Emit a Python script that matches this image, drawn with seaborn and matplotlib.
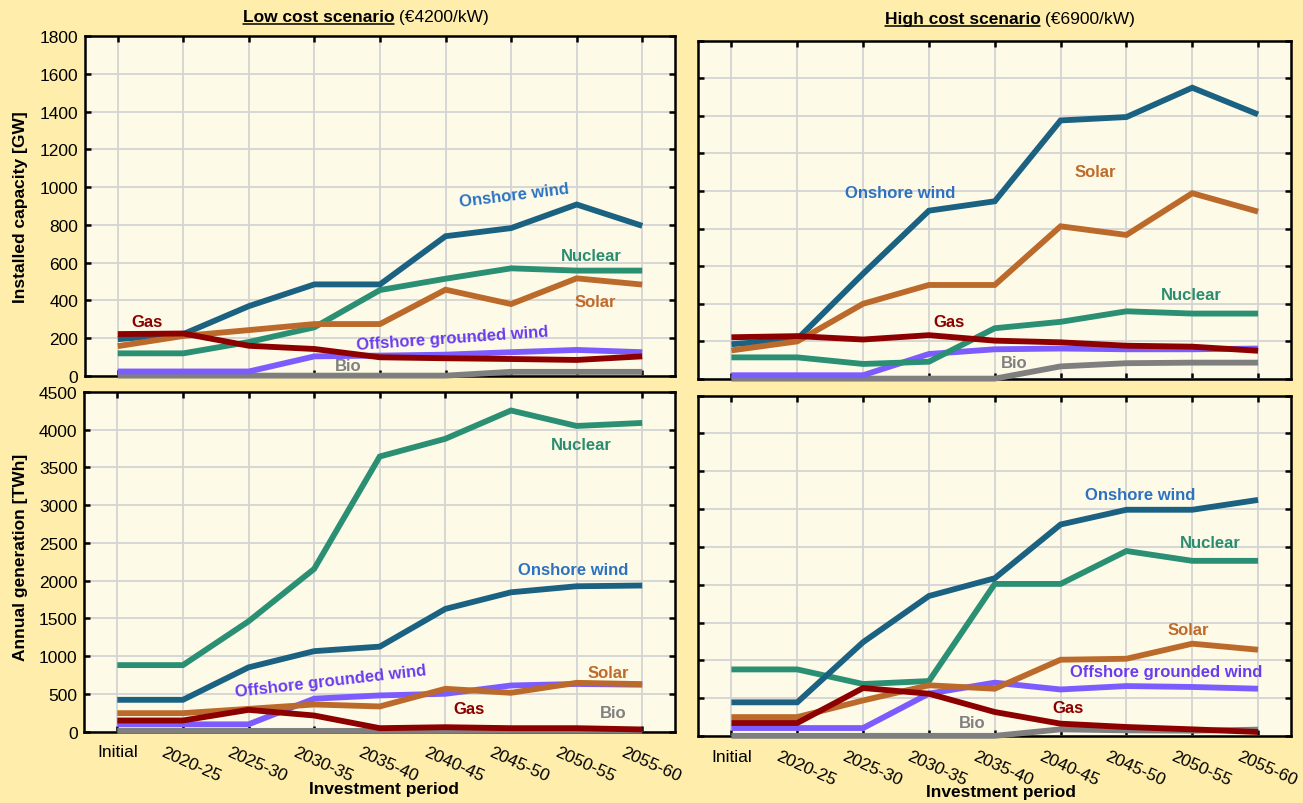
import numpy as np
import pandas as pd
import matplotlib
matplotlib.use("Agg")
import matplotlib.pyplot as plt
import matplotlib.transforms as mtransforms
from matplotlib.lines import Line2D
import seaborn as sns

sns.set_theme(style="white")
plt.rcParams["font.family"] = ["Liberation Sans", "DejaVu Sans"]
plt.rcParams["text.color"] = "black"
plt.rcParams["axes.labelcolor"] = "black"

# ---- data -------------------------------------------------------------
periods = ["Initial", "2020-25", "2025-30", "2030-35", "2035-40",
           "2040-45", "2045-50", "2050-55", "2055-60"]
techs = ["Bio", "Offshore grounded wind", "Nuclear", "Onshore wind", "Solar", "Gas"]

# Installed capacity [GW], low cost scenario
cap_low_onshore = [195, 222, 370, 485, 485, 740, 783, 908, 795]
cap_low_nuclear = [120, 120, 180, 258, 455, 515, 570, 558, 558]
cap_low_solar = [158, 212, 243, 275, 275, 457, 381, 517, 484]
cap_low_gas = [222, 225, 160, 143, 99, 94, 90, 85, 104]
cap_low_offshore = [24, 24, 24, 104, 108, 113, 126, 138, 126]
cap_low_bio = [2, 2, 2, 2, 2, 2, 22, 22, 22]

# Installed capacity [GW], high cost scenario
cap_high_onshore = [185, 212, 560, 895, 945, 1375, 1393, 1549, 1407]
cap_high_nuclear = [115, 115, 80, 92, 270, 304, 360, 348, 348]
cap_high_solar = [152, 200, 400, 500, 500, 812, 766, 988, 890]
cap_high_gas = [222, 228, 210, 233, 204, 195, 177, 172, 150]
cap_high_offshore = [20, 20, 20, 133, 158, 162, 158, 158, 162]
cap_high_bio = [2, 2, 2, 2, 2, 67, 84, 87, 87]

# Annual generation [TWh], low cost scenario
gen_low_nuclear = [880, 880, 1460, 2155, 3645, 3880, 4255, 4050, 4090]
gen_low_onshore = [420, 420, 850, 1065, 1125, 1625, 1845, 1925, 1935]
gen_low_offshore = [95, 95, 95, 435, 478, 500, 610, 630, 620]
gen_low_solar = [243, 243, 300, 358, 332, 566, 513, 645, 628]
gen_low_gas = [146, 146, 287, 212, 44, 57, 44, 44, 27]
gen_low_bio = [8, 8, 8, 8, 8, 8, 10, 10, 10]

# Annual generation [TWh], high cost scenario
gen_high_onshore = [445, 445, 1240, 1850, 2085, 2795, 2990, 2990, 3120]
gen_high_nuclear = [880, 880, 687, 726, 2010, 2010, 2445, 2315, 2315]
gen_high_solar = [250, 250, 470, 670, 625, 1008, 1021, 1220, 1140]
gen_high_offshore = [105, 105, 105, 560, 705, 615, 660, 648, 625]
gen_high_gas = [172, 172, 634, 559, 317, 163, 119, 88, 53]
gen_high_bio = [2, 2, 2, 2, 2, 88, 75, 70, 84]

# ---- styling ------------------------------------------------------------
line_colors = {
    "Onshore wind": "#1b6182",
    "Nuclear": "#2a8f73",
    "Solar": "#bb6a2b",
    "Gas": "#8c0000",
    "Offshore grounded wind": "#7d5cff",
    "Bio": "#7f7f7f",
}
label_colors = {
    "Onshore wind": "#2d72c2",
    "Nuclear": "#2a8c70",
    "Solar": "#c06a2a",
    "Gas": "#8c0000",
    "Offshore grounded wind": "#6a3cf0",
    "Bio": "#808080",
}
FIG_BG = "#ffeeab"
AX_BG = "#fdfbe7"
GRID = "#d4d4d4"
FS = 12.5


def frame(series):
    rows = []
    for tech in techs:
        for i, v in enumerate(series[tech]):
            rows.append({"pos": i, "value": v, "tech": tech})
    return pd.DataFrame(rows)


panels = [
    {
        "rect": [0.06523, 0.53109, 0.45280, 0.42289],
        "series": {"Onshore wind": cap_low_onshore, "Nuclear": cap_low_nuclear,
                   "Solar": cap_low_solar, "Gas": cap_low_gas,
                   "Offshore grounded wind": cap_low_offshore, "Bio": cap_low_bio},
        "ymax": 1800, "ystep": 200, "yticklabels": True, "xticklabels": False,
        "labels": [("Onshore wind", 6.05, 960, 7),
                   ("Nuclear", 7.22, 640, 0),
                   ("Solar", 7.29, 397, 0),
                   ("Gas", 0.45, 291, 0),
                   ("Offshore grounded wind", 5.1, 202, 4),
                   ("Bio", 3.52, 53, 0)],
    },
    {
        "rect": [0.53607, 0.52736, 0.45472, 0.42102],
        "series": {"Onshore wind": cap_high_onshore, "Nuclear": cap_high_nuclear,
                   "Solar": cap_high_solar, "Gas": cap_high_gas,
                   "Offshore grounded wind": cap_high_offshore, "Bio": cap_high_bio},
        "ymax": 1800, "ystep": 200, "yticklabels": False, "xticklabels": False,
        "labels": [("Onshore wind", 2.57, 991, 0),
                   ("Solar", 5.52, 1106, 0),
                   ("Nuclear", 6.98, 451, 0),
                   ("Gas", 3.31, 304, 0),
                   ("Bio", 4.29, 88, 0)],
    },
    {
        "rect": [0.06485, 0.08893, 0.45319, 0.42226],
        "series": {"Onshore wind": gen_low_onshore, "Nuclear": gen_low_nuclear,
                   "Solar": gen_low_solar, "Gas": gen_low_gas,
                   "Offshore grounded wind": gen_low_offshore, "Bio": gen_low_bio},
        "ymax": 4500, "ystep": 500, "yticklabels": True, "xticklabels": True,
        "xlabel_xy": (384, 790),
        "labels": [("Nuclear", 7.07, 3800, 0),
                   ("Onshore wind", 6.95, 2150, 0),
                   ("Offshore grounded wind", 3.26, 680, 6.5),
                   ("Solar", 7.49, 778, 0),
                   ("Gas", 5.36, 300, 0),
                   ("Bio", 7.56, 248, 0)],
    },
    {
        "rect": [0.53607, 0.08333, 0.45472, 0.42351],
        "series": {"Onshore wind": gen_high_onshore, "Nuclear": gen_high_nuclear,
                   "Solar": gen_high_solar, "Gas": gen_high_gas,
                   "Offshore grounded wind": gen_high_offshore, "Bio": gen_high_bio},
        "ymax": 4500, "ystep": 500, "yticklabels": False, "xticklabels": True,
        "xlabel_xy": (1001, 793),
        "labels": [("Onshore wind", 6.21, 3188, 0),
                   ("Nuclear", 7.27, 2563, 0),
                   ("Solar", 6.94, 1409, 0),
                   ("Offshore grounded wind", 6.6, 854, 0),
                   ("Gas", 5.11, 383, 0),
                   ("Bio", 3.65, 176, 0)],
    },
]

fig = plt.figure(figsize=(13.03, 8.04), dpi=100, facecolor=FIG_BG)
W, H = 1303, 804

for p in panels:
    ax = fig.add_axes(p["rect"])
    ax.set_facecolor(AX_BG)
    df = frame(p["series"])
    sns.lineplot(data=df, x="pos", y="value", hue="tech", hue_order=techs,
                 palette=line_colors, linewidth=4.2, legend=False, ax=ax,
                 sort=False, estimator=None)
    for ln in ax.get_lines():
        ln.set_clip_on(False)
        ln.set_zorder(3)
        ln.set_solid_joinstyle("miter")
        ln.set_solid_capstyle("butt")

    ax.set_xlim(-0.5, len(periods) - 0.5)
    ax.set_ylim(0, p["ymax"])
    ax.set_xticks(range(len(periods)))
    ax.set_yticks(np.arange(0, p["ymax"] + 1, p["ystep"]))
    ax.grid(True, color=GRID, linewidth=1.3)
    ax.set_axisbelow(True)
    ax.set_xlabel("")
    ax.set_ylabel("")
    for s in ax.spines.values():
        s.set_visible(True)
        s.set_color("black")
        s.set_linewidth(1.8)
        s.set_zorder(2.5)
    ax.tick_params(direction="in", length=4, width=1.8, color="black",
                   top=True, right=True, bottom=True, left=True,
                   labelsize=FS, labelcolor="black", pad=5)

    if p["yticklabels"]:
        ax.set_yticklabels([str(int(v)) for v in ax.get_yticks()])
    else:
        ax.set_yticklabels([])

    if p["xticklabels"]:
        ax.set_xticklabels(periods)
        ax.tick_params(axis="x", pad=9)
        shift = mtransforms.ScaledTranslation(0.085, 0, fig.dpi_scale_trans)
        for lbl in ax.get_xticklabels()[1:]:
            lbl.set_rotation(-24)
            lbl.set_ha("center")
            lbl.set_transform(lbl.get_transform() + shift)
        xl, yl = p["xlabel_xy"]
        fig.text(xl / W, 1 - yl / H, "Investment period", fontsize=FS,
                 fontweight="bold", ha="center", va="center")
    else:
        ax.set_xticklabels([])

    for name, x, y, rot in p["labels"]:
        ax.text(x, y, name, color=label_colors[name], fontsize=12,
                fontweight="bold", ha="center", va="center", rotation=rot,
                zorder=4)

# Axis titles on the left
fig.text(21 / W, 1 - 207 / H, "Installed capacity [GW]", rotation=90,
         fontsize=FS, fontweight="bold", ha="center", va="center")
fig.text(21 / W, 1 - 557 / H, "Annual generation [TWh]", rotation=90,
         fontsize=FS, fontweight="bold", ha="center", va="center")

# Scenario headings: underlined bold name followed by the cost in brackets
renderer = fig.canvas.get_renderer()


def heading(xc_px, base_px, bold, rest):
    y = 1 - base_px / H
    t1 = fig.text(0, y, bold, fontsize=FS, fontweight="bold", va="baseline")
    t2 = fig.text(0, y, rest, fontsize=FS, va="baseline")
    w1 = t1.get_window_extent(renderer).width
    w2 = t2.get_window_extent(renderer).width
    x0 = xc_px - (w1 + w2) / 2
    t1.set_x(x0 / W)
    t2.set_x((x0 + w1) / W)
    uy = 1 - (base_px + 2.5) / H
    fig.add_artist(Line2D([x0 / W, (x0 + w1) / W], [uy, uy],
                          transform=fig.transFigure, color="black", lw=1.1))


heading(366, 22, "Low cost scenario", " (\u20ac4200/kW)")
heading(1010, 24, "High cost scenario", " (\u20ac6900/kW)")

fig.savefig("out.png", dpi=100, facecolor=FIG_BG)
